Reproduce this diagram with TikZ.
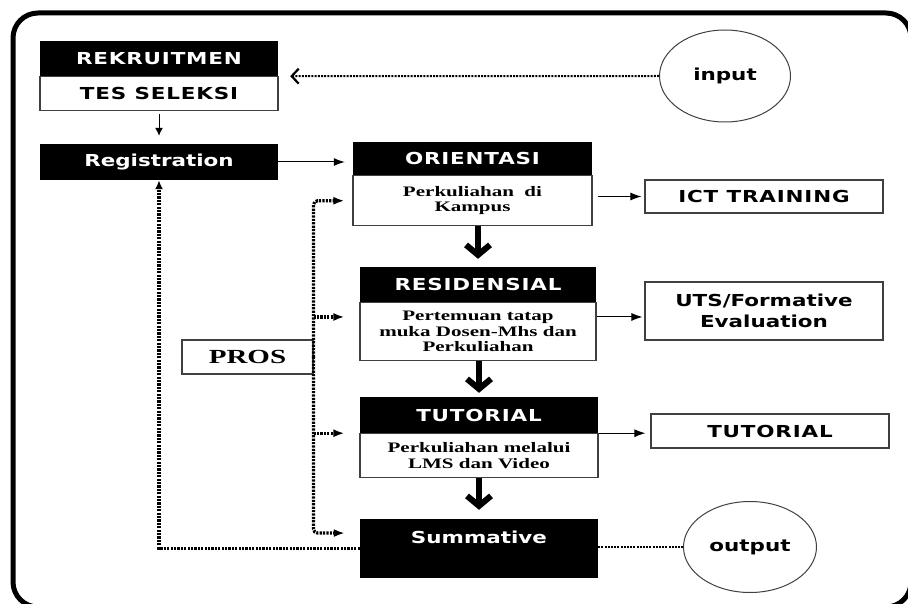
\documentclass[tikz,border=0pt]{standalone}
\usepackage{fontspec}
\usetikzlibrary{arrows.meta, shapes.geometric, calc}
\newfontfamily\hdfont[FakeStretch=1.3]{DejaVu Sans}
\newfontfamily\capfont[FakeStretch=1.3, LetterSpace=5]{DejaVu Sans}
\newfontfamily\bdfont[FakeStretch=1.45]{Liberation Serif}

\begin{document}
\begin{tikzpicture}[x=1pt, y=-1pt]
  \tikzset{head/.style = {fill=black, text=white, minimum width=238pt, inner sep=0pt, font=\capfont\bfseries\fontsize{16.5}{18}\selectfont}}
  \tikzset{body/.style = {draw=black!75, line width=1.1pt, fill=white, minimum width=238pt, inner sep=0pt, align=center, font=\bdfont\bfseries\fontsize{14.5}{15.5}\selectfont}}
  \tikzset{side/.style = {draw=black!75, line width=1.1pt, minimum width=238pt, inner sep=0pt, align=center, font=\capfont\bfseries\fontsize{16.5}{21}\selectfont}}
  \tikzset{term/.style = {ellipse, draw=black!75, line width=1pt, inner sep=0pt, font=\hdfont\bfseries\fontsize{16.5}{18}\selectfont}}
  \tikzset{flow/.style = {line width=1pt, -{Latex[length=11pt, width=8pt]}}}
  \tikzset{bigflow/.style = {line width=6pt, -{Straight Barb[length=10pt, width=24pt]}}}
  \tikzset{dots/.style = {line width=3.2pt, dash pattern=on 2.2pt off 1.2pt}}

  \useasboundingbox (0,0) rectangle (908,604);
  \draw[line width=5pt, rounded corners=25pt] (13,13) rectangle (911,607);

  % left column
  \node[head, minimum height=35pt] (rek) at (159,58.5) {REKRUITMEN};
  \node[side, minimum height=34pt, anchor=north] (tes) at (rek.south) {TES SELEKSI};
  \node[head, font=\hdfont\bfseries\fontsize{16.5}{18}\selectfont, minimum height=36pt] (reg) at (159,162) {Registration};
  \node[side, font=\bdfont\bfseries\fontsize{20}{22}\selectfont, minimum width=131pt, minimum height=34pt] (pros) at (247.5,357) {PROS};

  % middle column
  \node[head, minimum width=239pt, minimum height=33pt] (ori) at (472.5,158.5) {ORIENTASI};
  \node[body, minimum width=239pt, minimum height=50pt, anchor=north] (orib) at (ori.south) {Perkuliahan~~di\\Kampus};
  \node[head, minimum width=236pt, minimum height=35pt] (res) at (478,284.5) {RESIDENSIAL};
  \node[body, minimum width=236pt, minimum height=58pt, anchor=north] (resb) at (res.south) {Pertemuan tatap\\muka Dosen-Mhs dan\\Perkuliahan};
  \node[head, minimum height=36pt] (tut) at (479,415) {TUTORIAL};
  \node[body, minimum height=44pt, anchor=north] (tutb) at (tut.south) {Perkuliahan melalui\\LMS dan Video};
  \node[head, font=\hdfont\bfseries\fontsize{16.5}{18}\selectfont, text height=24pt, text depth=35pt, anchor=base] (sum) at (479,543) {Summative};

  % right column
  \node[term, minimum width=131pt, minimum height=92pt] (inp) at (725,76) {input};
  \node[side, minimum height=33pt] (ict) at (764,196.5) {ICT TRAINING};
  \node[side, font=\hdfont\bfseries\fontsize{16.5}{21}\selectfont, minimum height=58pt] (uts) at (764,311) {UTS/Formative\\Evaluation};
  \node[side, minimum height=34pt] (tutr) at (770,431) {TUTORIAL};
  \node[term, minimum width=133pt, minimum height=91pt] (outp) at (750,547) {output};

  \coordinate (resout) at ($(resb.north east)!0.25!(resb.south east)$);
  \coordinate (resin) at ($(resb.north west)!0.25!(resb.south west)$);
  \coordinate (sumin) at ($(sum.north west)!0.24!(sum.south west)$);

  % solid arrows
  \draw[line width=1pt, -{Latex[length=8pt, width=8pt]}, shorten <=3pt, shorten >=8pt] (tes) -- (reg);
  \draw[flow, shorten >=8pt] (reg.east) -- (reg.east -| ori.west);
  \draw[flow, shorten <=5pt, shorten >=3pt] (orib.east |- ict) -- (ict.west);
  \draw[flow, shorten >=2pt] (resout) -- (resout -| uts.west);
  \draw[flow, shorten >=5pt] (tutb.north east) -- (tutb.north east -| tutr.west);
  \draw[bigflow, shorten >=8pt] (orib.south -| res) -- (res.north);
  \draw[bigflow, shorten >=4pt] (resb.south -| tut) -- (tut.north);
  \draw[bigflow, shorten >=9pt] (tutb.south) -- (sum.north);

  % dotted links
  \draw[dots, line width=2pt, dash pattern=on 2pt off 1.2pt, -{Straight Barb[length=7pt, width=15pt, line width=2.2pt]}, shorten >=12pt] (inp.west) -- (rek.south east);
  \draw[dots, line width=2pt, dash pattern=on 2pt off 1.2pt] (sum.east |- outp) -- (outp.west);
  \draw[dots, -{Latex[length=9pt, width=8pt]}] (sum.west) -| (reg.south);
  \draw[dots, rounded corners=4pt, -{Latex[length=11pt, width=8pt]}, shorten >=8pt] (pros.east) |- (orib.west);
  \draw[dots, rounded corners=4pt, -{Latex[length=11pt, width=8pt]}, shorten >=15pt] (pros.east) |- (sumin);
  \draw[dots, -{Latex[length=11pt, width=8pt]}, shorten >=15pt] (pros.east |- resin) -- (resin);
  \draw[dots, -{Latex[length=11pt, width=8pt]}, shorten >=15pt] (pros.east |- tutb.north west) -- (tutb.north west);
\end{tikzpicture}
\end{document}
